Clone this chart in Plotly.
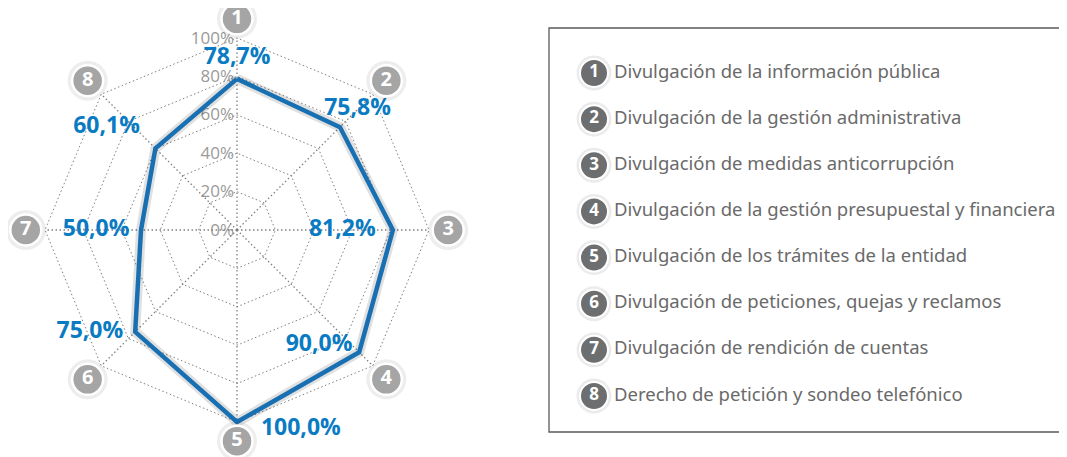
import plotly.graph_objects as go

# radar categories (badge numbers) and scores in percent
categorias = ["1", "2", "3", "4", "5", "6", "7", "8"]
valores = [78.7, 75.8, 81.2, 90.0, 100.0, 75.0, 50.0, 60.1]

# legend descriptions
descripciones = [
    "Divulgación de la información pública",
    "Divulgación de la gestión administrativa",
    "Divulgación de medidas anticorrupción",
    "Divulgación de la gestión presupuestal y financiera",
    "Divulgación de los trámites de la entidad",
    "Divulgación de peticiones, quejas y reclamos",
    "Divulgación de rendición de cuentas",
    "Derecho de petición y sondeo telefónico",
]

ticks_radial = [0, 20, 40, 60, 80, 100]

# label placement (style only): text position, radial nudge, padding
pos_etiqueta = ["top center", "middle center", "middle left", "middle left",
                "middle right", "middle left", "middle left", "top left"]
desfase_r = [5, 13, -9, -5, 4, 0, 6, 7]
relleno_izq = [0, 0, 0, 0, 4, 0, 0, 0]
relleno_der = [0, 0, 0, 0, 0, 2, 0, 1]

W, H = 1067, 457
OFF = 8  # page body margin
AZUL = "#0a7bc2"
LINEA = "#1870b3"
GRIS_GRID = "#808080"
DASH = "1.5px,2.5px"
FONT = "Open Sans"
R_BADGE = 110
R_MAX = 112
NBSP = "\u00a0"


def fmt(v):
    return f"{v:.1f}".replace(".", ",") + "%"


fig = go.Figure()

# spokes of the radar, only up to 100 %
for c in categorias:
    fig.add_trace(go.Scatterpolar(
        r=[0, 100], theta=[c, c], mode="lines",
        line=dict(color=GRIS_GRID, width=1.3, dash=DASH),
        hoverinfo="skip", showlegend=False,
    ))

r_cerrado = valores + valores[:1]
t_cerrado = categorias + categorias[:1]

# soft shadow under the polygon
fig.add_trace(go.Scatterpolar(
    r=r_cerrado, theta=t_cerrado, mode="lines",
    line=dict(color="rgba(0,0,0,0.12)", width=10),
    hoverinfo="skip", showlegend=False,
))
fig.add_trace(go.Scatterpolar(
    r=r_cerrado, theta=t_cerrado, mode="lines",
    line=dict(color=LINEA, width=4.5),
    showlegend=False,
))
etiquetas = [NBSP * a + fmt(v) + NBSP * b
             for v, a, b in zip(valores, relleno_izq, relleno_der)]
fig.add_trace(go.Scatterpolar(
    r=[v + d for v, d in zip(valores, desfase_r)], theta=categorias,
    mode="text", text=etiquetas, textposition=pos_etiqueta,
    textfont=dict(family=FONT, size=23, color=AZUL, weight="bold"),
    cliponaxis=False, showlegend=False,
))

# numbered badges around the radar
fig.add_trace(go.Scatterpolar(
    r=[R_BADGE] * len(categorias), theta=categorias, mode="markers",
    marker=dict(size=40, color="rgba(0,0,0,0.07)"),
    cliponaxis=False, hoverinfo="skip", showlegend=False,
))
fig.add_trace(go.Scatterpolar(
    r=[R_BADGE] * len(categorias), theta=categorias, mode="markers+text",
    text=categorias, textposition="middle center",
    marker=dict(size=31, color="#a5a5a6", line=dict(color="white", width=2.5)),
    textfont=dict(family=FONT, size=20, color="white", weight="bold"),
    cliponaxis=False, showlegend=False,
))

# legend panel on the right, drawn on a cartesian axis
y_leg = list(range(1, len(descripciones) + 1))
fig.add_trace(go.Scatter(
    x=[45] * len(y_leg), y=y_leg, mode="markers",
    marker=dict(size=35, color="rgba(0,0,0,0.08)"),
    hoverinfo="skip", showlegend=False, xaxis="x", yaxis="y",
))
fig.add_trace(go.Scatter(
    x=[45] * len(y_leg), y=y_leg, mode="markers+text",
    text=categorias, textposition="middle center",
    marker=dict(size=28, color="#6d6e70", line=dict(color="white", width=2)),
    textfont=dict(family=FONT, size=17, color="white", weight="bold"),
    showlegend=False, xaxis="x", yaxis="y",
))
fig.add_trace(go.Scatter(
    x=[65] * len(y_leg), y=y_leg, mode="text",
    text=descripciones, textposition="middle right",
    textfont=dict(family="Noto Sans", size=18.5, color="#6a6a6a"),
    showlegend=False, xaxis="x", yaxis="y", cliponaxis=False,
))

cx, cy = 237 - OFF, 230 - OFF
rad = 192 * R_MAX / 100
y1_leg = 73 - OFF
paso = (396 - 73) / 7
fig.update_layout(
    width=W, height=H,
    margin=dict(l=0, r=0, t=0, b=0),
    paper_bgcolor="white",
    plot_bgcolor="white",
    polar=dict(
        domain=dict(x=[(cx - rad) / W, (cx + rad) / W],
                    y=[(H - cy - rad) / H, (H - cy + rad) / H]),
        bgcolor="white",
        gridshape="linear",
        radialaxis=dict(
            range=[0, R_MAX], tickvals=ticks_radial,
            ticktext=[f"{t}%" for t in ticks_radial],
            angle=90, tickangle=90, side="counterclockwise",
            showline=False, ticks="",
            gridcolor=GRIS_GRID, griddash=DASH, gridwidth=1.3,
            tickfont=dict(family=FONT, size=17, color="#9a9a9a"),
            layer="below traces",
        ),
        angularaxis=dict(
            type="category", categoryarray=categorias,
            rotation=90, direction="clockwise",
            showticklabels=False, ticks="", showline=False,
            showgrid=False,
        ),
    ),
    xaxis=dict(domain=[(549 - OFF) / W, 1], range=[0, W - 549 + OFF],
               visible=False, fixedrange=True),
    yaxis=dict(domain=[0, 1], range=[1 + (H - y1_leg) / paso, 1 - y1_leg / paso],
               visible=False, fixedrange=True),
    shapes=[dict(type="rect", xref="paper", yref="paper",
                 x0=(549 - OFF) / W, x1=1.01,
                 y0=(H - 432 + OFF) / H, y1=(H - 28 + OFF) / H,
                 line=dict(color="#5a5a5a", width=1.3))],
)

fig.write_html("out.html")
